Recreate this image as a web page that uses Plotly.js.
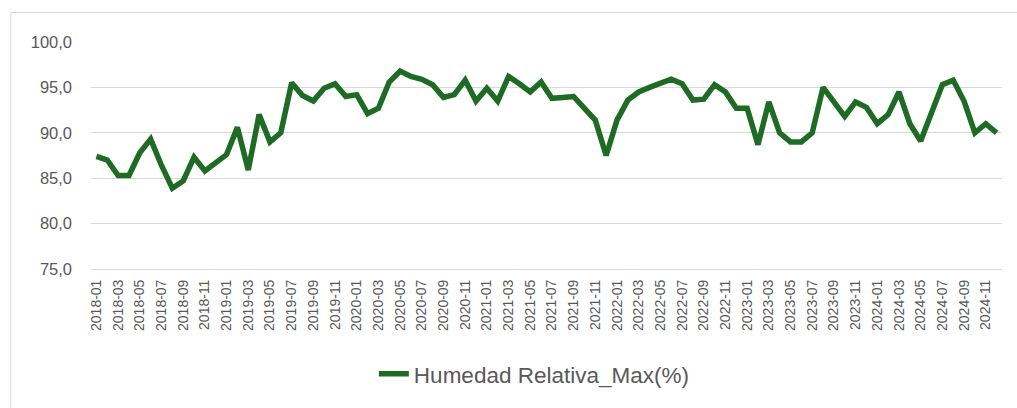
<!DOCTYPE html>
<html>
<head>
<meta charset="utf-8">
<script src="https://cdn.plot.ly/plotly-3.0.1.min.js"></script>
<style>
  html, body { margin: 0; padding: 0; background: #ffffff; }
  #chart { width: 1017px; height: 408px; }
</style>
</head>
<body>
<div id="chart"></div>
<script>
const months = [
  "2018-01","2018-02","2018-03","2018-04","2018-05","2018-06","2018-07","2018-08","2018-09","2018-10","2018-11","2018-12",
  "2019-01","2019-02","2019-03","2019-04","2019-05","2019-06","2019-07","2019-08","2019-09","2019-10","2019-11","2019-12",
  "2020-01","2020-02","2020-03","2020-04","2020-05","2020-06","2020-07","2020-08","2020-09","2020-10","2020-11","2020-12",
  "2021-01","2021-02","2021-03","2021-04","2021-05","2021-06","2021-07","2021-08","2021-09","2021-10","2021-11","2021-12",
  "2022-01","2022-02","2022-03","2022-04","2022-05","2022-06","2022-07","2022-08","2022-09","2022-10","2022-11","2022-12",
  "2023-01","2023-02","2023-03","2023-04","2023-05","2023-06","2023-07","2023-08","2023-09","2023-10","2023-11","2023-12",
  "2024-01","2024-02","2024-03","2024-04","2024-05","2024-06","2024-07","2024-08","2024-09","2024-10","2024-11","2024-12"
];

const humedadMax = [
  87.4, 87.0, 85.3, 85.3, 87.8, 89.3, 86.4, 83.9, 84.7, 87.3, 85.8, 86.7,
  87.6, 90.6, 85.9, 92.0, 89.0, 90.0, 95.5, 94.1, 93.5, 94.9, 95.4, 94.0,
  94.2, 92.1, 92.7, 95.6, 96.8, 96.2, 95.9, 95.3, 93.9, 94.2, 95.8, 93.5,
  94.9, 93.5, 96.2, 95.4, 94.5, 95.6, 93.8, 93.9, 94.0, 92.7, 91.4, 87.5,
  91.4, 93.6, 94.5, 95.0, 95.4, 95.9, 95.4, 93.6, 93.7, 95.3, 94.5, 92.7,
  92.7, 88.7, 93.4, 90.0, 89.0, 89.0, 90.0, 95.0, 93.4, 91.8, 93.4, 92.8,
  91.0, 92.0, 94.5, 91.0, 89.1, 92.2, 95.3, 95.8, 93.5, 90.0, 91.0, 90.0
];

const seriesName = "Humedad Relativa_Max(%)";
const yTicks = [75, 80, 85, 90, 95, 100];

const trace = {
  type: "scatter",
  mode: "lines",
  x: months,
  y: humedadMax,
  name: seriesName,
  line: { color: "#1e6b24", width: 5.5, shape: "linear" },
  hoverinfo: "x+y"
};

const layout = {
  width: 1017,
  height: 408,
  paper_bgcolor: "#ffffff",
  plot_bgcolor: "#ffffff",
  separators: ",.",
  margin: { l: 91, r: 15, t: 42, b: 137, pad: 0 },
  font: { family: "Liberation Sans, Arial, sans-serif", color: "#595959" },
  showlegend: true,
  legend: {
    orientation: "h",
    x: 0.3105, xanchor: "left",
    y: -0.463, yanchor: "middle",
    font: { size: 22.5, color: "#595959" },
    bgcolor: "rgba(0,0,0,0)"
  },
  xaxis: {
    type: "category",
    range: [-0.5, months.length - 0.5],
    tickmode: "linear",
    tick0: 0,
    dtick: 2,
    tickangle: -90,
    tickfont: { size: 14, color: "#595959" },
    showgrid: false,
    showline: true,
    linecolor: "#d9d9d9",
    linewidth: 1,
    ticks: "",
    ticklabelstandoff: 4,
    zeroline: false,
    fixedrange: true
  },
  yaxis: {
    range: [75, 100],
    tickmode: "array",
    tickvals: yTicks,
    tickformat: ".1f",
    tickfont: { size: 16.5, color: "#595959" },
    showgrid: true,
    gridcolor: "#d9d9d9",
    gridwidth: 1,
    showline: false,
    zeroline: false,
    ticks: "",
    ticklabelstandoff: 18,
    fixedrange: true
  },
  shapes: [
    {
      type: "rect", xref: "paper", yref: "paper",
      x0: -0.088, x1: 1.2, y0: -1.5, y1: 1.13,
      line: { color: "#d9d9d9", width: 1 },
      fillcolor: "rgba(0,0,0,0)",
      layer: "below"
    }
  ]
};

Plotly.newPlot("chart", [trace], layout, { displayModeBar: false, staticPlot: true });
</script>
</body>
</html>
